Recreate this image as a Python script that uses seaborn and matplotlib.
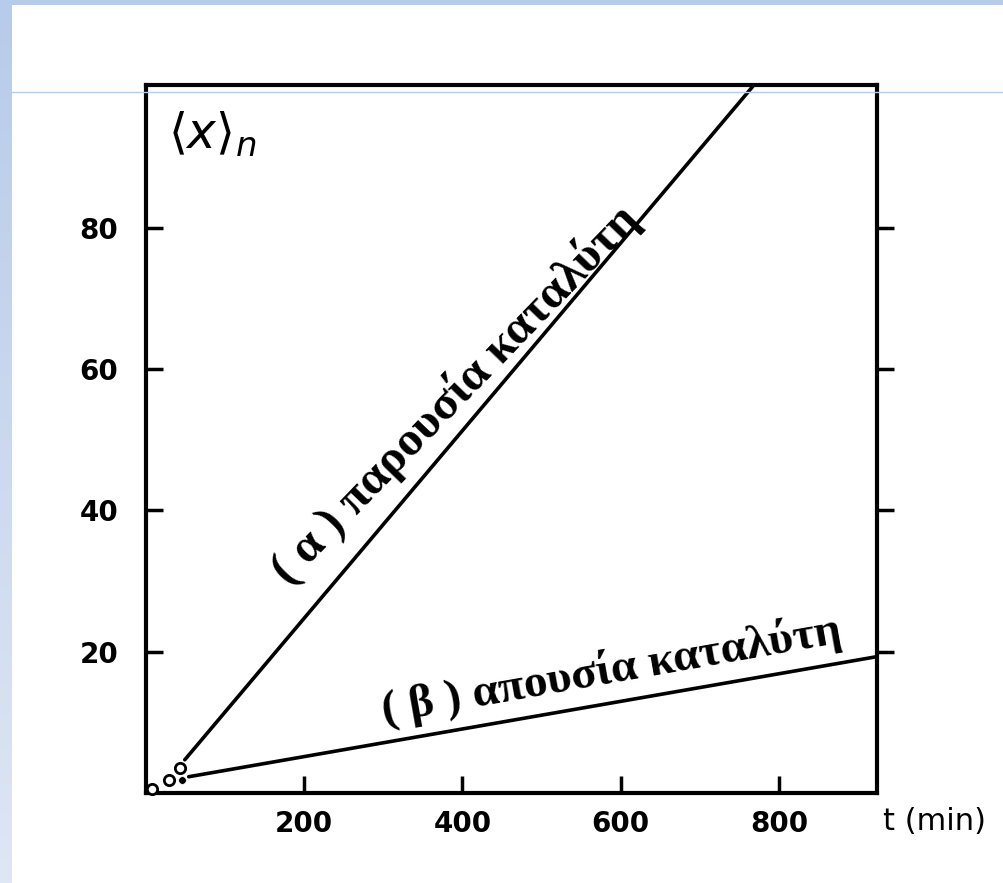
import numpy as np
import matplotlib
matplotlib.use("Agg")
import matplotlib.pyplot as plt
import seaborn as sns
from matplotlib.lines import Line2D
from matplotlib.patches import Rectangle

sns.set_theme(style="white")
plt.rcParams["text.color"] = "black"
plt.rcParams["mathtext.fontset"] = "dejavusans"

# data (t in min, <x>_n)
t_alpha = [49, 767]
x_alpha = [4.7, 100]
t_beta = [54, 924]
x_beta = [2.3, 19.3]
t_open = [8, 29, 43]
x_open = [0.5, 1.8, 3.6]
t_dot = [45]
x_dot = [1.8]
x_ticks = [200, 400, 600, 800]
y_ticks = [20, 40, 60, 80]
label_alpha = "( α ) παρουσία καταλύτη"
label_beta = "( β ) απουσία καταλύτη"

fig = plt.figure(figsize=(10.04, 8.83), dpi=100)
fig.patch.set_facecolor("white")

# slide frame: top strip, left gradient strip, thin rule
grad = np.linspace(0, 1, 256).reshape(-1, 1)
ax_bg = fig.add_axes([0, 0, 12 / 1004, 1])
ax_bg.imshow(grad, aspect="auto", cmap=matplotlib.colors.LinearSegmentedColormap.from_list(
    "slide", ["#b7cbea", "#dfe6f4"]))
ax_bg.axis("off")
fig.add_artist(Rectangle((0, 1 - 5 / 883), 1, 5 / 883, transform=fig.transFigure,
                         color="#b7cbea", lw=0))

ax = fig.add_axes([146 / 1004, 1 - 793 / 883, 731 / 1004, 708 / 883])
ax.set_facecolor("white")

sns.lineplot(x=t_alpha, y=x_alpha, ax=ax, color="black", lw=2.6)
sns.lineplot(x=t_beta, y=x_beta, ax=ax, color="black", lw=2.6)
sns.scatterplot(x=t_open, y=x_open, ax=ax, facecolor="white", edgecolor="black",
                s=55, linewidth=2, clip_on=False, zorder=5)
sns.scatterplot(x=t_dot, y=x_dot, ax=ax, color="black", s=30, clip_on=False, zorder=5)

ax.set_xlim(0, 924)
ax.set_ylim(0, 100.2)
for sp in ax.spines.values():
    sp.set_visible(True)
    sp.set_color("black")
    sp.set_linewidth(3)

ax.set_xticks(x_ticks)
ax.set_yticks(y_ticks)
ax.tick_params(axis="x", bottom=True, direction="in", length=12, width=2.5, pad=12,
               labelsize=20, colors="black")
ax.tick_params(axis="y", left=True, direction="in", length=12, width=2.5, pad=20,
               labelsize=20, colors="black")
for lab in ax.get_xticklabels() + ax.get_yticklabels():
    lab.set_fontweight("bold")

# outward ticks on the right side
ax_r = ax.twinx()
ax_r.set_ylim(ax.get_ylim())
ax_r.set_yticks(y_ticks)
ax_r.set_yticklabels([])
ax_r.tick_params(axis="y", right=True, direction="out", length=12, width=2.5,
                 colors="black")
ax_r.grid(False)
for sp in ax_r.spines.values():
    sp.set_visible(False)

ax.text(0.03, 0.93, r"$\langle x \rangle_n$", transform=ax.transAxes,
        fontsize=35, ha="left", va="center")
fig.text(935 / 1004, 1 - 821 / 883, "t (min)", fontsize=22, ha="center",
         va="center")

ax.text(390, 56.5, label_alpha, rotation=46, rotation_mode="anchor",
        ha="center", va="center", fontsize=35, fontweight="bold",
        family="Liberation Serif")
ax.text(588, 17.4, label_beta, rotation=10, rotation_mode="anchor",
        ha="center", va="center", fontsize=34, fontweight="bold",
        family="Liberation Serif")

fig.add_artist(Line2D([12 / 1004, 1], [1 - 92 / 883, 1 - 92 / 883],
                      transform=fig.transFigure, color="#b7cbea", lw=1))

fig.savefig("out.png", dpi=100)
